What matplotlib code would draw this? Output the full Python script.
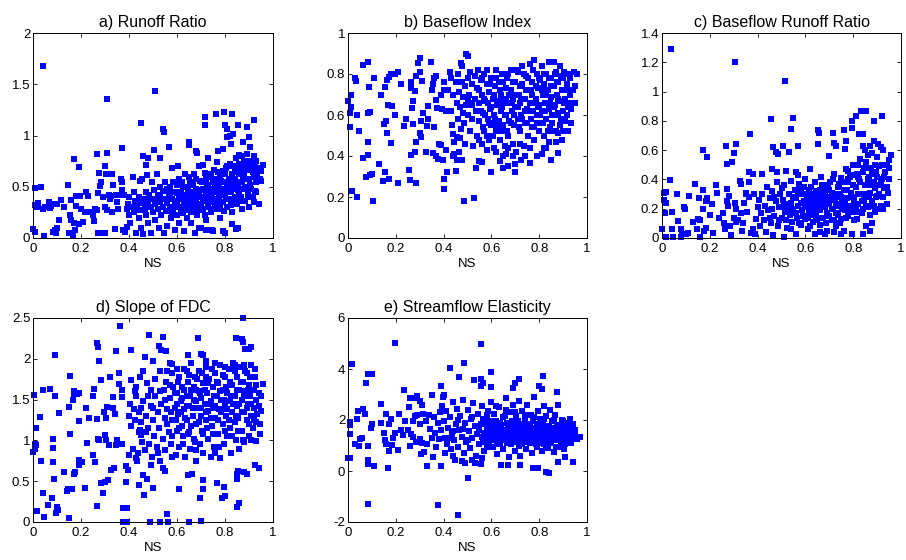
import numpy as np
import matplotlib
matplotlib.use("Agg")
import matplotlib.pyplot as plt
from matplotlib.ticker import FormatStrFormatter

plt.rcParams['font.family'] = ['Liberation Sans', 'DejaVu Sans']
plt.rcParams['font.size'] = 9.5

# NS on x, signature value on y, one row per catchment
runoff_ratio = np.array([
    (0.04, 1.68), (0.31, 1.36), (0.51, 1.43), (0.45, 1.12), (0.54, 1.06), (0.545, 1.03), (0.37, 0.88), (0.31, 0.83),
    (0.265, 0.82), (0.17, 0.77), (0.19, 0.69), (0.30, 0.70), (0.505, 0.86), (0.565, 0.89), (0.65, 0.94), (0.65, 0.91),
    (0.68, 0.85), (0.685, 0.83), (0.715, 1.18), (0.717, 1.10), (0.763, 1.21), (0.795, 1.23), (0.83, 1.21), (0.80, 1.10),
    (0.81, 0.99), (0.82, 1.00), (0.81, 1.06), (0.835, 1.01), (0.855, 1.10), (0.89, 1.08), (0.92, 1.15), (0.90, 0.99),
    (0.875, 0.94), (0.905, 0.89), (0.825, 0.92), (0.92, 0.80), (0.96, 0.71), (0.46, 0.80), (0.48, 0.78), (0.47, 0.71),
    (0.53, 0.78), (0.77, 0.85), (0.79, 0.87), (0.73, 0.78), (0.71, 0.71), (0.87, 0.80), (0.86, 0.81),
    (0.0, 0.09), (0.01, 0.06), (0.01, 0.32), (0.015, 0.30), (0.02, 0.34), (0.01, 0.49), (0.035, 0.50), (0.04, 0.28),
    (0.045, 0.02), (0.05, 0.30), (0.065, 0.35), (0.07, 0.29), (0.075, 0.31), (0.08, 0.33), (0.085, 0.06), (0.09, 0.08),
    (0.095, 0.05), (0.10, 0.10), (0.10, 0.33), (0.11, 0.18), (0.115, 0.37), (0.13, 0.30), (0.145, 0.52), (0.15, 0.05),
    (0.155, 0.22), (0.16, 0.18), (0.165, 0.03), (0.16, 0.37), (0.17, 0.15), (0.175, 0.08), (0.18, 0.41), (0.18, 0.31),
    (0.19, 0.14), (0.195, 0.41), (0.20, 0.28), (0.21, 0.16), (0.215, 0.25),
    (0.22, 0.45), (0.23, 0.41), (0.24, 0.25), (0.25, 0.22), (0.255, 0.17), (0.26, 0.28), (0.265, 0.27), (0.27, 0.44),
    (0.27, 0.05), (0.275, 0.63), (0.28, 0.51), (0.285, 0.55), (0.29, 0.05), (0.29, 0.40), (0.30, 0.05), (0.30, 0.30),
    (0.305, 0.62), (0.31, 0.27), (0.315, 0.42), (0.32, 0.38), (0.325, 0.41), (0.33, 0.25), (0.33, 0.62), (0.335, 0.52),
    (0.34, 0.09), (0.345, 0.42), (0.35, 0.35), (0.355, 0.28), (0.36, 0.42), (0.365, 0.58), (0.37, 0.55), (0.37, 0.47),
    (0.375, 0.08), (0.38, 0.42), (0.385, 0.06), (0.39, 0.28), (0.39, 0.11), (0.395, 0.33),
    (0.40, 0.22), (0.40, 0.40), (0.405, 0.15), (0.41, 0.30), (0.415, 0.60), (0.42, 0.25), (0.42, 0.45), (0.425, 0.36),
    (0.43, 0.05), (0.43, 0.27), (0.435, 0.32), (0.44, 0.40), (0.44, 0.20), (0.445, 0.56), (0.45, 0.34), (0.45, 0.10),
    (0.455, 0.58), (0.46, 0.38), (0.46, 0.04), (0.465, 0.28), (0.47, 0.45), (0.47, 0.22), (0.475, 0.61), (0.48, 0.36),
    (0.48, 0.15), (0.485, 0.42), (0.49, 0.30), (0.49, 0.05), (0.495, 0.55), (0.50, 0.25), (0.50, 0.38), (0.505, 0.47),
    (0.51, 0.33), (0.51, 0.18), (0.515, 0.62), (0.52, 0.28), (0.52, 0.42), (0.525, 0.10), (0.53, 0.35), (0.53, 0.50),
    (0.535, 0.22), (0.54, 0.30), (0.54, 0.46), (0.545, 0.05), (0.55, 0.38), (0.55, 0.55), (0.555, 0.26), (0.56, 0.34),
    (0.56, 0.12), (0.565, 0.44), (0.57, 0.30), (0.57, 0.50), (0.575, 0.20), (0.58, 0.38), (0.58, 0.68), (0.585, 0.27),
    (0.59, 0.45), (0.59, 0.08), (0.595, 0.33), (0.60, 0.52), (0.60, 0.22), (0.605, 0.70),
    (0.61, 0.38), (0.61, 0.15), (0.615, 0.45), (0.62, 0.30), (0.62, 0.55), (0.625, 0.25), (0.63, 0.42), (0.63, 0.07),
    (0.635, 0.35), (0.64, 0.50), (0.64, 0.20), (0.645, 0.40), (0.65, 0.60), (0.65, 0.30), (0.655, 0.45), (0.66, 0.15),
    (0.66, 0.36), (0.665, 0.52), (0.67, 0.28), (0.67, 0.42), (0.675, 0.05), (0.68, 0.35), (0.68, 0.58), (0.685, 0.22),
    (0.69, 0.46), (0.69, 0.70), (0.695, 0.32), (0.70, 0.40), (0.70, 0.10), (0.705, 0.55), (0.71, 0.28), (0.71, 0.48),
    (0.715, 0.63), (0.72, 0.36), (0.72, 0.18), (0.725, 0.52), (0.73, 0.42), (0.73, 0.30), (0.735, 0.60), (0.74, 0.25),
    (0.74, 0.48), (0.745, 0.08), (0.75, 0.38), (0.75, 0.55), (0.755, 0.66), (0.76, 0.32), (0.76, 0.45), (0.765, 0.74),
    (0.77, 0.28), (0.77, 0.52), (0.775, 0.40), (0.78, 0.60), (0.78, 0.20), (0.785, 0.46), (0.79, 0.35), (0.79, 0.65),
    (0.795, 0.55), (0.80, 0.42), (0.80, 0.05),
    (0.805, 0.68), (0.81, 0.30), (0.81, 0.50), (0.815, 0.58), (0.82, 0.38), (0.82, 0.72), (0.825, 0.45), (0.83, 0.62),
    (0.83, 0.25), (0.835, 0.52), (0.84, 0.40), (0.84, 0.68), (0.845, 0.78), (0.85, 0.33), (0.85, 0.55), (0.855, 0.10),
    (0.855, 0.47), (0.86, 0.62), (0.86, 0.72), (0.865, 0.40), (0.87, 0.55), (0.87, 0.28), (0.875, 0.65), (0.88, 0.48),
    (0.88, 0.75), (0.885, 0.36), (0.89, 0.58), (0.89, 0.82), (0.895, 0.44), (0.90, 0.66), (0.90, 0.30), (0.905, 0.52),
    (0.91, 0.72), (0.915, 0.40), (0.92, 0.60), (0.92, 0.78), (0.925, 0.46), (0.93, 0.55), (0.935, 0.62), (0.94, 0.33),
    (0.945, 0.58), (0.95, 0.65), (0.69, 0.10), (0.72, 0.08), (0.75, 0.07), (0.79, 0.07), (0.83, 0.14), (0.845, 0.09),
    (0.56, 0.48), (0.57, 0.40), (0.58, 0.25), (0.585, 0.55), (0.59, 0.36), (0.60, 0.44), (0.605, 0.30), (0.61, 0.58),
    (0.615, 0.24), (0.62, 0.40), (0.625, 0.50), (0.63, 0.33), (0.635, 0.62), (0.64, 0.27), (0.645, 0.46), (0.65, 0.38),
    (0.655, 0.55), (0.66, 0.25), (0.665, 0.44), (0.67, 0.62), (0.675, 0.34), (0.68, 0.48), (0.685, 0.40), (0.69, 0.27),
    (0.695, 0.56), (0.70, 0.33), (0.705, 0.47), (0.71, 0.38), (0.715, 0.22), (0.72, 0.58), (0.725, 0.44), (0.73, 0.50),
    (0.735, 0.35), (0.74, 0.62), (0.745, 0.41), (0.75, 0.28), (0.755, 0.47), (0.76, 0.58), (0.765, 0.36), (0.77, 0.64),
    (0.775, 0.50), (0.78, 0.32), (0.785, 0.56), (0.79, 0.44), (0.795, 0.26), (0.80, 0.62), (0.805, 0.38), (0.81, 0.70),
    (0.815, 0.46), (0.82, 0.55), (0.825, 0.32), (0.83, 0.48), (0.835, 0.70), (0.84, 0.58), (0.845, 0.36), (0.85, 0.64),
    (0.855, 0.52), (0.86, 0.43), (0.865, 0.68), (0.87, 0.36), (0.875, 0.58), (0.88, 0.62), (0.885, 0.50), (0.89, 0.70),
    (0.895, 0.40), (0.90, 0.58), (0.905, 0.75), (0.91, 0.48), (0.915, 0.64), (0.92, 0.35), (0.925, 0.70), (0.93, 0.45),
    (0.94, 0.68), (0.95, 0.56), (0.93, 0.75), (0.87, 0.72), (0.84, 0.52), (0.80, 0.48), (0.76, 0.52), (0.72, 0.46),
    (0.68, 0.42), (0.64, 0.36), (0.60, 0.36), (0.565, 0.38), (0.53, 0.40), (0.52, 0.36), (0.47, 0.33), (0.45, 0.27),
])

baseflow_index = np.array([
    (0.0, 0.67), (0.011, 0.70), (0.007, 0.61), (0.014, 0.64), (0.01, 0.54), (0.017, 0.23), (0.039, 0.20), (0.03, 0.78),
    (0.035, 0.765), (0.039, 0.60), (0.046, 0.52), (0.063, 0.845), (0.084, 0.86), (0.063, 0.39), (0.084, 0.405),
    (0.084, 0.47), (0.088, 0.735), (0.084, 0.61), (0.09, 0.615), (0.077, 0.30), (0.094, 0.305), (0.10, 0.31),
    (0.104, 0.18), (0.11, 0.78), (0.13, 0.36), (0.137, 0.70), (0.145, 0.28), (0.153, 0.32), (0.15, 0.555),
    (0.158, 0.57), (0.153, 0.735), (0.165, 0.77), (0.17, 0.785), (0.18, 0.80), (0.195, 0.80), (0.21, 0.81),
    (0.22, 0.75), (0.163, 0.51), (0.167, 0.65), (0.185, 0.645), (0.17, 0.29), (0.18, 0.465), (0.195, 0.60),
    (0.21, 0.27), (0.235, 0.545), (0.244, 0.58), (0.254, 0.33), (0.258, 0.285), (0.265, 0.405), (0.265, 0.76),
    (0.265, 0.73), (0.27, 0.555), (0.272, 0.667), (0.268, 0.635), (0.28, 0.42), (0.283, 0.27), (0.286, 0.47),
    (0.28, 0.715), (0.286, 0.79), (0.293, 0.855), (0.303, 0.88), (0.30, 0.81), (0.30, 0.51), (0.307, 0.495),
    (0.31, 0.765), (0.307, 0.57), (0.314, 0.61), (0.325, 0.42), (0.33, 0.545), (0.335, 0.58), (0.335, 0.645),
    (0.346, 0.86), (0.35, 0.72), (0.354, 0.75), (0.355, 0.415), (0.36, 0.54), (0.36, 0.78), (0.367, 0.79),
    (0.37, 0.675), (0.372, 0.635), (0.367, 0.40), (0.377, 0.385), (0.38, 0.46), (0.39, 0.455), (0.39, 0.70),
    (0.393, 0.63), (0.40, 0.76), (0.40, 0.72), (0.397, 0.38), (0.40, 0.29), (0.403, 0.24), (0.41, 0.62),
    (0.41, 0.43), (0.414, 0.32), (0.425, 0.81), (0.43, 0.78), (0.44, 0.505), (0.44, 0.40), (0.445, 0.41),
    (0.453, 0.325), (0.455, 0.38), (0.457, 0.495), (0.474, 0.855), (0.478, 0.84), (0.465, 0.42), (0.474, 0.53),
    (0.48, 0.61), (0.478, 0.38), (0.485, 0.18), (0.495, 0.90), (0.50, 0.89), (0.526, 0.195), (0.537, 0.34),
    (0.548, 0.375), (0.56, 0.37), (0.60, 0.32), (0.635, 0.377), (0.65, 0.40), (0.65, 0.34), (0.67, 0.35),
    (0.70, 0.32), (0.70, 0.36), (0.725, 0.38), (0.76, 0.365), (0.79, 0.40), (0.81, 0.41), (0.83, 0.44),
    (0.85, 0.38), (0.88, 0.415),
    (0.42, 0.72), (0.43, 0.62), (0.435, 0.55), (0.44, 0.70), (0.445, 0.47), (0.45, 0.76), (0.455, 0.66), (0.46, 0.58),
    (0.46, 0.80), (0.465, 0.71), (0.47, 0.49), (0.47, 0.64), (0.475, 0.76), (0.48, 0.69), (0.485, 0.56), (0.49, 0.74),
    (0.49, 0.46), (0.495, 0.65), (0.50, 0.78), (0.50, 0.60), (0.505, 0.70), (0.51, 0.52), (0.51, 0.81), (0.515, 0.66),
    (0.52, 0.75), (0.52, 0.58), (0.525, 0.45), (0.53, 0.68), (0.53, 0.79), (0.535, 0.62), (0.54, 0.73), (0.54, 0.50),
    (0.545, 0.82), (0.55, 0.66), (0.55, 0.57), (0.555, 0.77), (0.56, 0.46), (0.56, 0.70), (0.565, 0.61), (0.57, 0.80),
    (0.57, 0.52), (0.575, 0.67), (0.58, 0.75), (0.58, 0.43), (0.585, 0.58), (0.59, 0.71), (0.59, 0.48), (0.595, 0.63),
    (0.60, 0.78), (0.60, 0.55),
    (0.605, 0.68), (0.61, 0.44), (0.61, 0.60), (0.615, 0.74), (0.62, 0.52), (0.62, 0.82), (0.625, 0.65), (0.63, 0.57),
    (0.63, 0.76), (0.635, 0.48), (0.64, 0.70), (0.64, 0.62), (0.645, 0.80), (0.65, 0.55), (0.65, 0.67), (0.655, 0.45),
    (0.66, 0.73), (0.66, 0.60), (0.665, 0.78), (0.67, 0.50), (0.67, 0.66), (0.675, 0.57), (0.68, 0.72), (0.68, 0.82),
    (0.685, 0.62), (0.69, 0.46), (0.69, 0.68), (0.695, 0.55), (0.70, 0.76), (0.70, 0.64), (0.705, 0.42), (0.71, 0.58),
    (0.71, 0.81), (0.715, 0.70), (0.72, 0.52), (0.72, 0.66), (0.725, 0.60), (0.73, 0.75), (0.73, 0.84), (0.735, 0.45),
    (0.74, 0.68), (0.74, 0.56), (0.745, 0.79), (0.75, 0.63), (0.75, 0.72), (0.755, 0.50), (0.76, 0.66), (0.76, 0.85),
    (0.765, 0.58), (0.77, 0.76), (0.77, 0.70),
    (0.775, 0.62), (0.78, 0.87), (0.78, 0.54), (0.785, 0.68), (0.79, 0.80), (0.79, 0.60), (0.795, 0.73), (0.80, 0.65),
    (0.80, 0.56), (0.805, 0.77), (0.81, 0.84), (0.81, 0.62), (0.815, 0.70), (0.82, 0.50), (0.82, 0.75), (0.825, 0.66),
    (0.83, 0.58), (0.83, 0.80), (0.835, 0.72), (0.84, 0.63), (0.84, 0.86), (0.845, 0.54), (0.85, 0.69), (0.85, 0.78),
    (0.855, 0.60), (0.86, 0.74), (0.86, 0.86), (0.865, 0.65), (0.87, 0.52), (0.87, 0.81), (0.875, 0.70), (0.88, 0.61),
    (0.88, 0.76), (0.885, 0.55), (0.89, 0.67), (0.89, 0.79), (0.895, 0.48), (0.90, 0.72), (0.90, 0.62), (0.905, 0.81),
    (0.91, 0.57), (0.91, 0.68), (0.915, 0.75), (0.92, 0.64), (0.925, 0.80), (0.93, 0.70), (0.935, 0.63), (0.94, 0.72),
    (0.945, 0.81), (0.95, 0.66), (0.96, 0.80), (0.92, 0.52), (0.88, 0.51), (0.86, 0.52), (0.84, 0.47), (0.80, 0.52),
    (0.76, 0.44), (0.74, 0.40), (0.69, 0.40), (0.66, 0.41),
    (0.55, 0.72), (0.555, 0.62), (0.56, 0.78), (0.565, 0.54), (0.57, 0.68), (0.575, 0.60), (0.58, 0.82), (0.585, 0.66),
    (0.59, 0.56), (0.595, 0.75), (0.60, 0.64), (0.605, 0.50), (0.61, 0.70), (0.615, 0.58), (0.62, 0.78), (0.625, 0.55),
    (0.63, 0.67), (0.635, 0.72), (0.64, 0.52), (0.645, 0.64), (0.65, 0.76), (0.655, 0.60), (0.66, 0.68), (0.665, 0.52),
    (0.67, 0.80), (0.675, 0.70), (0.68, 0.56), (0.685, 0.66), (0.69, 0.76), (0.695, 0.60), (0.70, 0.70), (0.705, 0.82),
    (0.71, 0.64), (0.715, 0.54), (0.72, 0.74), (0.725, 0.68), (0.73, 0.58), (0.735, 0.80), (0.74, 0.62), (0.745, 0.72),
    (0.75, 0.56), (0.755, 0.78), (0.76, 0.62), (0.765, 0.72), (0.77, 0.54), (0.775, 0.82), (0.78, 0.66), (0.785, 0.74),
    (0.79, 0.56), (0.795, 0.64), (0.80, 0.78), (0.805, 0.60), (0.81, 0.72), (0.815, 0.56), (0.82, 0.80), (0.825, 0.62),
    (0.83, 0.70), (0.835, 0.52), (0.84, 0.78), (0.845, 0.66), (0.85, 0.74), (0.855, 0.56), (0.86, 0.64), (0.865, 0.80),
    (0.87, 0.60), (0.875, 0.76), (0.88, 0.68), (0.885, 0.84), (0.89, 0.58), (0.895, 0.72), (0.90, 0.78), (0.905, 0.66),
    (0.91, 0.80), (0.915, 0.60), (0.92, 0.72), (0.925, 0.66), (0.93, 0.78), (0.94, 0.66), (0.95, 0.74), (0.935, 0.56),
    (0.90, 0.52), (0.87, 0.47), (0.82, 0.44), (0.78, 0.48), (0.72, 0.46), (0.67, 0.44), (0.62, 0.42), (0.58, 0.50),
    (0.55, 0.48), (0.52, 0.65), (0.50, 0.68),
])

baseflow_runoff_ratio = np.array([
    (0.036, 1.29), (0.305, 1.20), (0.515, 1.07), (0.454, 0.81), (0.55, 0.82), (0.54, 0.745), (0.37, 0.71), (0.31, 0.64),
    (0.30, 0.58), (0.266, 0.63), (0.273, 0.505), (0.294, 0.52), (0.17, 0.60), (0.19, 0.55), (0.464, 0.62),
    (0.478, 0.59), (0.485, 0.575), (0.506, 0.63), (0.533, 0.59), (0.568, 0.63), (0.652, 0.735), (0.655, 0.715),
    (0.652, 0.64), (0.717, 0.72), (0.763, 0.735), (0.77, 0.665), (0.767, 0.61), (0.794, 0.80), (0.795, 0.75),
    (0.81, 0.835), (0.833, 0.87), (0.854, 0.87), (0.888, 0.80), (0.92, 0.83), (0.823, 0.71), (0.84, 0.71),
    (0.84, 0.63), (0.85, 0.60), (0.87, 0.63), (0.885, 0.66), (0.905, 0.64), (0.915, 0.62), (0.925, 0.60),
    (0.96, 0.57), (0.948, 0.53), (0.94, 0.50), (0.72, 0.65), (0.73, 0.63), (0.70, 0.56), (0.62, 0.47), (0.46, 0.47),
    (0.48, 0.45), (0.52, 0.46), (0.56, 0.45), (0.57, 0.43), (0.38, 0.44), (0.42, 0.44),
    (0.0, 0.06), (0.01, 0.31), (0.015, 0.315), (0.01, 0.26), (0.018, 0.24), (0.014, 0.17), (0.018, 0.01),
    (0.032, 0.395), (0.04, 0.06), (0.043, 0.18), (0.046, 0.01), (0.064, 0.30), (0.067, 0.115), (0.08, 0.06),
    (0.085, 0.03), (0.078, 0.01), (0.09, 0.21), (0.095, 0.195), (0.10, 0.025), (0.108, 0.035), (0.115, 0.29),
    (0.13, 0.11), (0.14, 0.37), (0.146, 0.06), (0.15, 0.13), (0.16, 0.125), (0.155, 0.275), (0.157, 0.01),
    (0.17, 0.33), (0.17, 0.195), (0.175, 0.05), (0.185, 0.07), (0.185, 0.25), (0.19, 0.27), (0.20, 0.16),
    (0.21, 0.235), (0.213, 0.035), (0.224, 0.36), (0.23, 0.31), (0.24, 0.14), (0.255, 0.17), (0.26, 0.10),
    (0.263, 0.06), (0.27, 0.335), (0.27, 0.25), (0.275, 0.22), (0.28, 0.29), (0.285, 0.08), (0.29, 0.02),
    (0.30, 0.14), (0.305, 0.24), (0.31, 0.20), (0.325, 0.39), (0.33, 0.37), (0.33, 0.17), (0.335, 0.05),
    (0.345, 0.24), (0.35, 0.30), (0.353, 0.31), (0.363, 0.45), (0.363, 0.38), (0.365, 0.28), (0.373, 0.035),
    (0.38, 0.06), (0.385, 0.30), (0.39, 0.03), (0.395, 0.13), (0.40, 0.21), (0.34, 0.10), (0.355, 0.18),
    (0.32, 0.12), (0.31, 0.11),
    (0.405, 0.26), (0.41, 0.08), (0.415, 0.17), (0.42, 0.30), (0.425, 0.12), (0.43, 0.22), (0.435, 0.04), (0.44, 0.35),
    (0.445, 0.19), (0.45, 0.27), (0.455, 0.10), (0.46, 0.32), (0.46, 0.20), (0.465, 0.02), (0.47, 0.15), (0.475, 0.25),
    (0.48, 0.38), (0.485, 0.08), (0.49, 0.21), (0.495, 0.30), (0.50, 0.14), (0.505, 0.26), (0.51, 0.01), (0.51, 0.36),
    (0.515, 0.18), (0.52, 0.23), (0.525, 0.07), (0.53, 0.30), (0.535, 0.16), (0.54, 0.39), (0.54, 0.24), (0.545, 0.11),
    (0.55, 0.20), (0.555, 0.33), (0.56, 0.03), (0.56, 0.27), (0.565, 0.14), (0.57, 0.22), (0.575, 0.37), (0.58, 0.09),
    (0.585, 0.19), (0.59, 0.30), (0.595, 0.25), (0.60, 0.13), (0.60, 0.40),
    (0.605, 0.21), (0.61, 0.06), (0.61, 0.29), (0.615, 0.17), (0.62, 0.24), (0.625, 0.35), (0.63, 0.11), (0.63, 0.20),
    (0.635, 0.28), (0.64, 0.03), (0.64, 0.38), (0.645, 0.15), (0.65, 0.23), (0.655, 0.31), (0.66, 0.09), (0.66, 0.19),
    (0.665, 0.42), (0.67, 0.26), (0.675, 0.14), (0.68, 0.21), (0.685, 0.33), (0.69, 0.05), (0.69, 0.17), (0.695, 0.28),
    (0.70, 0.23), (0.705, 0.38), (0.71, 0.12), (0.71, 0.31), (0.715, 0.20), (0.72, 0.44), (0.725, 0.26), (0.73, 0.08),
    (0.73, 0.17), (0.735, 0.35), (0.74, 0.22), (0.745, 0.29), (0.75, 0.13), (0.75, 0.41), (0.755, 0.24), (0.76, 0.05),
    (0.76, 0.33), (0.765, 0.19), (0.77, 0.47), (0.775, 0.27), (0.78, 0.15), (0.78, 0.38), (0.785, 0.22), (0.79, 0.31),
    (0.795, 0.03), (0.80, 0.43), (0.80, 0.18), (0.805, 0.26), (0.81, 0.35), (0.815, 0.13), (0.82, 0.50), (0.82, 0.23),
    (0.825, 0.40), (0.83, 0.30), (0.835, 0.17), (0.84, 0.45), (0.84, 0.03), (0.845, 0.26), (0.85, 0.36), (0.855, 0.08),
    (0.855, 0.52), (0.86, 0.21), (0.865, 0.42), (0.87, 0.31), (0.875, 0.48), (0.88, 0.25), (0.88, 0.10), (0.885, 0.38),
    (0.89, 0.18), (0.895, 0.45), (0.90, 0.29), (0.905, 0.36), (0.91, 0.49), (0.915, 0.22), (0.92, 0.40), (0.925, 0.28),
    (0.93, 0.34), (0.935, 0.45), (0.94, 0.23), (0.945, 0.31), (0.95, 0.48), (0.90, 0.55), (0.88, 0.58), (0.86, 0.57),
    (0.83, 0.54), (0.80, 0.50), (0.78, 0.46), (0.87, 0.05), (0.75, 0.03), (0.72, 0.04), (0.68, 0.03), (0.66, 0.04),
    (0.45, 0.14), (0.47, 0.28), (0.49, 0.12), (0.50, 0.34), (0.51, 0.22), (0.52, 0.12), (0.53, 0.20), (0.54, 0.06),
    (0.55, 0.28), (0.56, 0.17), (0.57, 0.30), (0.575, 0.10), (0.58, 0.24), (0.59, 0.15), (0.595, 0.35), (0.60, 0.22),
    (0.605, 0.28), (0.61, 0.14), (0.615, 0.33), (0.62, 0.08), (0.625, 0.20), (0.63, 0.27), (0.635, 0.16), (0.64, 0.24),
    (0.645, 0.32), (0.65, 0.12), (0.655, 0.20), (0.66, 0.27), (0.665, 0.14), (0.67, 0.36), (0.675, 0.22), (0.68, 0.30),
    (0.685, 0.10), (0.69, 0.25), (0.695, 0.36), (0.70, 0.15), (0.705, 0.27), (0.71, 0.20), (0.715, 0.40), (0.72, 0.12),
    (0.725, 0.30), (0.73, 0.23), (0.735, 0.16), (0.74, 0.37), (0.745, 0.10), (0.75, 0.28), (0.755, 0.20), (0.76, 0.38),
    (0.765, 0.25), (0.77, 0.14), (0.775, 0.33), (0.78, 0.22), (0.785, 0.42), (0.79, 0.18), (0.795, 0.28), (0.80, 0.36),
    (0.805, 0.12), (0.81, 0.22), (0.815, 0.44), (0.82, 0.30), (0.825, 0.18), (0.83, 0.38), (0.835, 0.25), (0.84, 0.20),
    (0.845, 0.48), (0.85, 0.30), (0.855, 0.22), (0.86, 0.40), (0.865, 0.28), (0.87, 0.16), (0.875, 0.36), (0.88, 0.44),
    (0.885, 0.22), (0.89, 0.34), (0.895, 0.28), (0.90, 0.42), (0.905, 0.20), (0.91, 0.30), (0.915, 0.38), (0.92, 0.50),
    (0.925, 0.20), (0.93, 0.42), (0.94, 0.35), (0.95, 0.40), (0.89, 0.50), (0.86, 0.48), (0.82, 0.42), (0.78, 0.40),
    (0.74, 0.30), (0.70, 0.33), (0.66, 0.33), (0.62, 0.30), (0.58, 0.33),
])

fdc_slope = np.array([
    (0.362, 2.40), (0.873, 2.50), (0.093, 2.05), (0.265, 2.19), (0.27, 2.14), (0.275, 1.975), (0.345, 2.09),
    (0.408, 2.11), (0.483, 2.295), (0.543, 2.27), (0.526, 2.16), (0.532, 2.11), (0.555, 2.10), (0.50, 1.97),
    (0.466, 2.02), (0.846, 2.25), (0.87, 2.24), (0.877, 2.20), (0.885, 2.12), (0.90, 2.12), (0.91, 2.14),
    (0.688, 2.25), (0.70, 2.06), (0.71, 2.05), (0.72, 1.97), (0.57, 1.95), (0.58, 1.94), (0.645, 2.05),
    (0.004, 1.56), (0.04, 1.62), (0.07, 1.63), (0.09, 1.545), (0.03, 1.29), (0.014, 1.15), (0.0, 0.86),
    (0.007, 0.96), (0.014, 0.94), (0.01, 0.90), (0.035, 0.745), (0.04, 0.357), (0.018, 0.13), (0.046, 0.06),
    (0.063, 0.21), (0.08, 0.30), (0.083, 1.02), (0.083, 0.91), (0.083, 0.74), (0.086, 0.525), (0.097, 0.11),
    (0.10, 0.18), (0.104, 0.15), (0.11, 1.34), (0.13, 0.61), (0.15, 0.05), (0.15, 1.41), (0.153, 1.08),
    (0.156, 1.79), (0.14, 0.38), (0.147, 0.40), (0.163, 0.40), (0.17, 0.59), (0.175, 0.61), (0.17, 1.61),
    (0.172, 1.57), (0.182, 1.57), (0.19, 1.58), (0.168, 1.49), (0.19, 1.24), (0.19, 0.76), (0.19, 0.70),
    (0.205, 0.73), (0.215, 0.42), (0.22, 1.40), (0.225, 0.965), (0.234, 1.28), (0.25, 0.82), (0.257, 0.74),
    (0.25, 1.54), (0.255, 1.63), (0.265, 1.26), (0.27, 1.02), (0.273, 1.00), (0.265, 0.19), (0.285, 0.48),
    (0.29, 0.35), (0.30, 0.49), (0.285, 1.74), (0.295, 1.35), (0.305, 1.28), (0.31, 1.41), (0.30, 1.07),
    (0.305, 1.00), (0.315, 0.94), (0.313, 0.51), (0.32, 1.78), (0.335, 1.53), (0.333, 1.40), (0.34, 1.32),
    (0.345, 0.94), (0.35, 1.00), (0.326, 0.64), (0.338, 0.66), (0.36, 1.69), (0.36, 1.83), (0.37, 1.62),
    (0.372, 1.53), (0.37, 0.96), (0.373, 0.17), (0.39, 0.17), (0.375, 0.0), (0.38, 0.0), (0.39, 0.0),
    (0.387, 0.69), (0.395, 0.64), (0.387, 0.49), (0.40, 0.82), (0.41, 1.74), (0.425, 1.60), (0.43, 1.65),
    (0.44, 1.10), (0.445, 1.13), (0.45, 1.07), (0.43, 0.78), (0.438, 0.84), (0.44, 0.45), (0.464, 0.33),
    (0.46, 0.57), (0.475, 0.53), (0.487, 0.0), (0.53, 0.0), (0.564, 0.0), (0.648, 0.0), (0.70, 0.01),
    (0.557, 0.10), (0.61, 0.40), (0.707, 0.40), (0.707, 0.52), (0.694, 0.29), (0.664, 0.59), (0.645, 0.57),
    (0.766, 0.48), (0.787, 0.29), (0.798, 0.32), (0.794, 0.43), (0.85, 0.18), (0.85, 0.53), (0.852, 0.59),
    (0.855, 0.63), (0.89, 0.59), (0.926, 0.70), (0.94, 0.66), (0.86, 0.23), (0.88, 0.61), (0.54, 0.66),
    (0.55, 0.62), (0.50, 0.42), (0.49, 0.70), (0.52, 0.85), (0.58, 0.80),
    (0.40, 1.30), (0.405, 1.45), (0.41, 1.18), (0.415, 0.90), (0.42, 1.38), (0.425, 1.25), (0.43, 1.55), (0.435, 0.75),
    (0.44, 1.35), (0.445, 1.78), (0.45, 1.22), (0.455, 0.98), (0.46, 1.48), (0.46, 1.85), (0.465, 0.88), (0.47, 1.30),
    (0.475, 1.70), (0.48, 1.15), (0.485, 0.95), (0.49, 1.42), (0.49, 1.62), (0.495, 0.80), (0.50, 1.25), (0.505, 1.05),
    (0.51, 1.55), (0.51, 1.75), (0.515, 0.92), (0.52, 1.35), (0.525, 1.15), (0.53, 1.85), (0.53, 0.75), (0.535, 1.45),
    (0.54, 1.02), (0.545, 1.62), (0.55, 1.28), (0.55, 0.88), (0.555, 1.72), (0.56, 1.38), (0.565, 1.10), (0.57, 1.52),
    (0.575, 0.95), (0.58, 1.82), (0.58, 1.25), (0.585, 1.65), (0.59, 1.40), (0.595, 0.82), (0.60, 1.12), (0.60, 1.58),
    (0.605, 1.32), (0.61, 1.78), (0.61, 0.92), (0.615, 1.48), (0.62, 1.18), (0.62, 1.65), (0.625, 1.05), (0.63, 1.38),
    (0.63, 1.88), (0.635, 0.80), (0.64, 1.55), (0.64, 1.25), (0.645, 1.72), (0.65, 1.10), (0.65, 1.42), (0.655, 0.90),
    (0.66, 1.62), (0.66, 1.95), (0.665, 1.30), (0.67, 1.50), (0.67, 1.02), (0.675, 1.78), (0.68, 1.20), (0.68, 0.75),
    (0.685, 1.40), (0.69, 1.60), (0.69, 1.85), (0.695, 0.95), (0.70, 1.30), (0.70, 1.52), (0.705, 1.12), (0.71, 1.70),
    (0.71, 0.85), (0.715, 1.45), (0.72, 1.25), (0.72, 1.90), (0.725, 1.58), (0.73, 1.02), (0.73, 1.36), (0.735, 1.75),
    (0.74, 0.80), (0.74, 1.48), (0.745, 1.18), (0.75, 1.65), (0.75, 1.40), (0.755, 0.92), (0.76, 1.82), (0.76, 1.28),
    (0.765, 1.55), (0.77, 1.08), (0.77, 1.70), (0.775, 1.38), (0.78, 0.78), (0.78, 1.92), (0.785, 1.50), (0.79, 1.20),
    (0.79, 1.62), (0.795, 0.95), (0.80, 1.42), (0.80, 1.78), (0.805, 1.30), (0.81, 1.05), (0.81, 1.58), (0.815, 1.88),
    (0.82, 1.15), (0.82, 1.48), (0.825, 0.85), (0.83, 1.68), (0.83, 1.35), (0.835, 1.95), (0.84, 1.22), (0.84, 1.55),
    (0.845, 1.00), (0.85, 1.78), (0.85, 1.42), (0.855, 1.28), (0.86, 1.62), (0.86, 0.90), (0.865, 1.90), (0.87, 1.50),
    (0.87, 1.12), (0.875, 1.72), (0.88, 1.35), (0.88, 0.98), (0.885, 1.60), (0.89, 1.82), (0.89, 1.25), (0.895, 1.45),
    (0.90, 1.05), (0.90, 1.68), (0.905, 1.55), (0.91, 1.30), (0.91, 1.92), (0.915, 1.15), (0.92, 1.62), (0.92, 1.40),
    (0.925, 1.78), (0.93, 1.22), (0.93, 1.50), (0.935, 1.32), (0.94, 1.58), (0.945, 1.20), (0.95, 1.36), (0.96, 1.69),
    (0.945, 1.08), (0.93, 0.99), (0.91, 1.01), (0.76, 0.85), (0.68, 0.88),
    (0.55, 1.50), (0.56, 1.20), (0.57, 1.68), (0.575, 1.35), (0.58, 1.05), (0.59, 1.58), (0.595, 1.25), (0.60, 1.45),
    (0.605, 1.72), (0.61, 1.15), (0.615, 1.35), (0.62, 1.52), (0.625, 0.95), (0.63, 1.62), (0.635, 1.28), (0.64, 1.42),
    (0.645, 1.08), (0.65, 1.80), (0.655, 1.55), (0.66, 1.18), (0.665, 1.40), (0.67, 1.65), (0.675, 0.98), (0.68, 1.48),
    (0.685, 1.75), (0.69, 1.22), (0.695, 1.58), (0.70, 1.40), (0.705, 1.82), (0.71, 1.08), (0.715, 1.62), (0.72, 1.35),
    (0.725, 1.15), (0.73, 1.70), (0.735, 1.45), (0.74, 1.28), (0.745, 1.88), (0.75, 1.08), (0.755, 1.55), (0.76, 1.42),
    (0.765, 1.72), (0.77, 1.25), (0.775, 0.92), (0.78, 1.60), (0.785, 1.35), (0.79, 1.80), (0.795, 1.50), (0.80, 1.12),
    (0.805, 1.65), (0.81, 1.38), (0.815, 1.25), (0.82, 1.72), (0.825, 1.55), (0.83, 1.05), (0.835, 1.45), (0.84, 1.85),
    (0.845, 1.30), (0.85, 1.62), (0.855, 1.12), (0.86, 1.45), (0.865, 1.72), (0.87, 1.35), (0.875, 1.00), (0.88, 1.55),
    (0.885, 1.85), (0.89, 1.40), (0.895, 1.62), (0.90, 1.20), (0.905, 1.78), (0.91, 1.45), (0.915, 1.62), (0.92, 1.25),
    (0.93, 1.68), (0.94, 1.42), (0.95, 1.55), (0.925, 1.88), (0.88, 1.92), (0.84, 1.92), (0.80, 1.90), (0.76, 1.95),
    (0.72, 1.78), (0.68, 1.62), (0.64, 1.85), (0.60, 1.88), (0.56, 1.85), (0.53, 1.60), (0.50, 1.40), (0.48, 1.55),
    (0.47, 1.10), (0.45, 1.40),
])

elasticity = np.array([
    (0.198, 5.03), (0.555, 4.98), (0.017, 4.18), (0.485, 4.25), (0.428, 4.03), (0.597, 3.90), (0.463, 3.68),
    (0.084, 3.81), (0.10, 3.81), (0.077, 3.45), (0.527, 3.57), (0.558, 3.60), (0.565, 3.45), (0.558, 3.35),
    (0.60, 3.31), (0.70, 3.45), (0.715, 3.60), (0.69, 3.25), (0.816, 3.71), (0.80, 3.35), (0.81, 3.22),
    (0.876, 3.11), (0.39, 3.35), (0.40, 2.98), (0.397, 2.92), (0.353, 2.98), (0.234, 3.18), (0.137, 2.62),
    (0.063, 2.43), (0.042, 2.37), (0.038, 2.02), (0.007, 1.93), (0.007, 1.82), (0.01, 1.45), (0.0, 0.50),
    (0.01, 0.52), (0.084, 0.98), (0.085, 0.43), (0.084, 0.26), (0.11, 0.20), (0.167, 0.10), (0.084, -1.30),
    (0.377, -1.32), (0.46, -1.74), (0.50, -0.27), (0.33, 0.19), (0.39, 0.19), (0.405, 0.69), (0.446, 0.42),
    (0.475, 0.40), (0.488, 0.30), (0.53, 0.30), (0.555, 0.27), (0.64, 0.23), (0.67, 0.25), (0.72, 0.22),
    (0.774, 0.10), (0.795, 0.10), (0.83, -0.05), (0.84, -0.08), (0.88, 0.35), (0.91, 0.53), (0.94, 0.36),
    (0.07, 2.25), (0.16, 2.25), (0.215, 2.25), (0.18, 2.05), (0.17, 1.85), (0.095, 1.70), (0.10, 1.85),
    (0.14, 1.90), (0.03, 1.05), (0.045, 0.98), (0.05, 1.25), (0.06, 1.30), (0.15, 1.50), (0.155, 1.22),
    (0.16, 1.05), (0.17, 0.78), (0.185, 1.02), (0.19, 1.30), (0.195, 1.50), (0.21, 0.82), (0.22, 1.62),
    (0.23, 1.42), (0.255, 2.50), (0.26, 2.85), (0.275, 2.85), (0.29, 2.95), (0.30, 2.75), (0.31, 2.60),
    (0.26, 1.00), (0.265, 1.45), (0.27, 1.95), (0.28, 2.15), (0.285, 1.15), (0.29, 2.20), (0.30, 1.85),
    (0.305, 0.65), (0.31, 1.10), (0.315, 2.25), (0.32, 0.75), (0.325, 1.95), (0.33, 1.05), (0.34, 2.20),
    (0.345, 1.65), (0.35, 1.30), (0.355, 0.55), (0.36, 2.10), (0.365, 1.50), (0.37, 0.95), (0.375, 1.90),
    (0.38, 1.25), (0.385, 2.30), (0.39, 1.60), (0.395, 2.55), (0.30, 1.25), (0.27, 1.35), (0.25, 1.60),
    (0.24, 1.95),
    (0.40, 1.95), (0.405, 1.30), (0.41, 2.35), (0.415, 1.05), (0.42, 1.70), (0.425, 2.10), (0.43, 0.85), (0.435, 1.45),
    (0.44, 2.70), (0.445, 1.20), (0.45, 1.85), (0.455, 2.45), (0.46, 0.95), (0.465, 1.60), (0.47, 2.15), (0.475, 1.35),
    (0.48, 2.80), (0.485, 0.70), (0.49, 1.90), (0.495, 1.15), (0.50, 2.40), (0.505, 1.55), (0.51, 0.90), (0.515, 2.05),
    (0.52, 1.30), (0.525, 2.65), (0.53, 1.75), (0.535, 0.60), (0.54, 1.45), (0.545, 2.25), (0.55, 1.05), (0.555, 1.85),
    (0.56, 2.55), (0.565, 1.25), (0.57, 0.80), (0.575, 2.00), (0.58, 1.60), (0.585, 2.35), (0.59, 1.10), (0.595, 1.80),
    (0.60, 2.70), (0.60, 1.40), (0.44, 0.60), (0.52, 0.45), (0.56, 0.50), (0.58, 0.95),
    (0.605, 0.95), (0.61, 1.70), (0.61, 2.25), (0.615, 1.25), (0.62, 1.95), (0.625, 0.65), (0.63, 1.50), (0.63, 2.50),
    (0.635, 1.10), (0.64, 1.80), (0.645, 1.35), (0.65, 2.10), (0.65, 0.85), (0.655, 1.60), (0.66, 2.85), (0.66, 1.20),
    (0.665, 1.90), (0.67, 1.45), (0.675, 0.55), (0.68, 2.30), (0.68, 1.05), (0.685, 1.70), (0.69, 1.30), (0.69, 2.60),
    (0.695, 1.85), (0.70, 0.80), (0.70, 1.55), (0.705, 2.15), (0.71, 1.15), (0.71, 1.95), (0.715, 2.75), (0.72, 1.40),
    (0.72, 0.60), (0.725, 1.75), (0.73, 2.35), (0.73, 1.05), (0.735, 1.60), (0.74, 1.25), (0.74, 2.00), (0.745, 0.85),
    (0.75, 1.50), (0.75, 2.60), (0.755, 1.80), (0.76, 1.10), (0.76, 1.35), (0.765, 2.20), (0.77, 0.70), (0.77, 1.65),
    (0.775, 1.95), (0.78, 1.25), (0.78, 2.90), (0.785, 1.45), (0.79, 0.95), (0.79, 1.75), (0.795, 2.35), (0.80, 1.15),
    (0.80, 1.55), (0.805, 2.05), (0.81, 0.80), (0.81, 1.35), (0.815, 1.85), (0.82, 2.55), (0.82, 1.05), (0.825, 1.60),
    (0.83, 1.25), (0.83, 2.15), (0.835, 0.90), (0.84, 1.45), (0.84, 1.75), (0.845, 2.40), (0.85, 1.10), (0.85, 1.30),
    (0.855, 1.95), (0.86, 0.75), (0.86, 1.60), (0.865, 2.20), (0.87, 1.20), (0.87, 1.45), (0.875, 1.80), (0.88, 0.95),
    (0.88, 2.60), (0.885, 1.35), (0.89, 1.65), (0.89, 1.10), (0.895, 2.00), (0.90, 1.25), (0.90, 1.50), (0.905, 0.85),
    (0.91, 1.80), (0.91, 1.35), (0.915, 1.10), (0.92, 1.60), (0.925, 1.45), (0.93, 2.05), (0.93, 1.20), (0.935, 1.70),
    (0.94, 1.35), (0.945, 1.55), (0.95, 1.25), (0.96, 1.35), (0.97, 1.32), (0.95, 1.45), (0.92, 1.90),
    (0.55, 1.60), (0.56, 1.35), (0.565, 2.05), (0.57, 1.50), (0.575, 1.15), (0.58, 1.85), (0.585, 1.35), (0.59, 1.65),
    (0.595, 1.45), (0.60, 1.95), (0.605, 1.20), (0.61, 1.55), (0.615, 1.80), (0.62, 1.40), (0.625, 1.05), (0.63, 1.70),
    (0.635, 1.90), (0.64, 1.25), (0.645, 1.55), (0.65, 1.40), (0.655, 2.15), (0.66, 1.60), (0.665, 1.10), (0.67, 1.75),
    (0.675, 1.35), (0.68, 1.55), (0.685, 1.95), (0.69, 1.15), (0.695, 1.45), (0.70, 1.75), (0.705, 1.30), (0.71, 1.55),
    (0.715, 1.00), (0.72, 1.85), (0.725, 1.25), (0.73, 1.60), (0.735, 1.40), (0.74, 1.75), (0.745, 1.15), (0.75, 1.30),
    (0.755, 1.60), (0.76, 1.85), (0.765, 1.45), (0.77, 1.20), (0.775, 1.50), (0.78, 1.70), (0.785, 1.05), (0.79, 1.35),
    (0.795, 1.55), (0.80, 1.85), (0.805, 1.30), (0.81, 1.60), (0.815, 1.10), (0.82, 1.45), (0.825, 1.75), (0.83, 1.00),
    (0.835, 1.35), (0.84, 1.60), (0.845, 1.15), (0.85, 1.50), (0.855, 1.70), (0.86, 1.25), (0.865, 1.45), (0.87, 0.95),
    (0.875, 1.60), (0.88, 1.30), (0.885, 1.75), (0.89, 1.45), (0.895, 1.20), (0.90, 1.65), (0.905, 1.40), (0.91, 1.05),
    (0.915, 1.50), (0.92, 1.30), (0.93, 1.55), (0.935, 1.10), (0.94, 1.45), (0.95, 1.60), (0.96, 1.25), (0.94, 1.85),
    (0.90, 1.95), (0.86, 2.00), (0.82, 2.05), (0.78, 2.10), (0.74, 2.20), (0.70, 2.30), (0.66, 2.40), (0.62, 2.55),
    (0.58, 2.20), (0.52, 2.10), (0.48, 1.65), (0.46, 2.00), (0.44, 1.55), (0.42, 1.30), (0.50, 1.20),
])

titles = ["a) Runoff Ratio", "b) Baseflow Index", "c) Baseflow Runoff Ratio",
          "d) Slope of FDC", "e) Streamflow Elasticity"]
panels = [runoff_ratio, baseflow_index, baseflow_runoff_ratio, fdc_slope, elasticity]
y_limits = [(0, 2), (0, 1), (0, 1.4), (0, 2.5), (-2, 6)]
y_ticks = [np.arange(0, 2.01, 0.5), np.arange(0, 1.01, 0.2), np.arange(0, 1.41, 0.2),
           np.arange(0, 2.51, 0.5), np.arange(-2, 6.1, 2)]

# axes boxes in figure pixels: left, top, right, bottom
W, H = 906, 560
boxes = [(33, 33, 273, 238), (348, 33, 587, 238), (662, 33, 901, 238),
         (33, 318, 273, 522), (348, 318, 587, 522)]

fig = plt.figure(figsize=(W / 100, H / 100), dpi=100)
for data, title, ylim, yt, (l, t, r, b) in zip(panels, titles, y_limits, y_ticks, boxes):
    ax = fig.add_axes([l / W, 1 - b / H, (r - l) / W, (b - t) / H])
    ax.plot(data[:, 0], data[:, 1], 's', color='#0000ff', markersize=4.2,
            markeredgewidth=0, linestyle='none', clip_on=False)
    ax.set_xlim(0, 1)
    ax.set_ylim(*ylim)
    ax.set_xticks(np.arange(0, 1.01, 0.2))
    ax.set_yticks(yt)
    ax.xaxis.set_major_formatter(FormatStrFormatter('%g'))
    ax.yaxis.set_major_formatter(FormatStrFormatter('%g'))
    ax.tick_params(direction='in', length=3, width=0.6, top=True, right=True, labelsize=9.5)
    ax.tick_params(axis='x', pad=3.5)
    ax.tick_params(axis='y', pad=2)
    for s in ax.spines.values():
        s.set_linewidth(0.7)
    ax.set_title(title, fontsize=11.5, pad=4)
    ax.set_xlabel("NS", fontsize=9.5, labelpad=2)

fig.savefig("out.png", dpi=100, facecolor='white')
